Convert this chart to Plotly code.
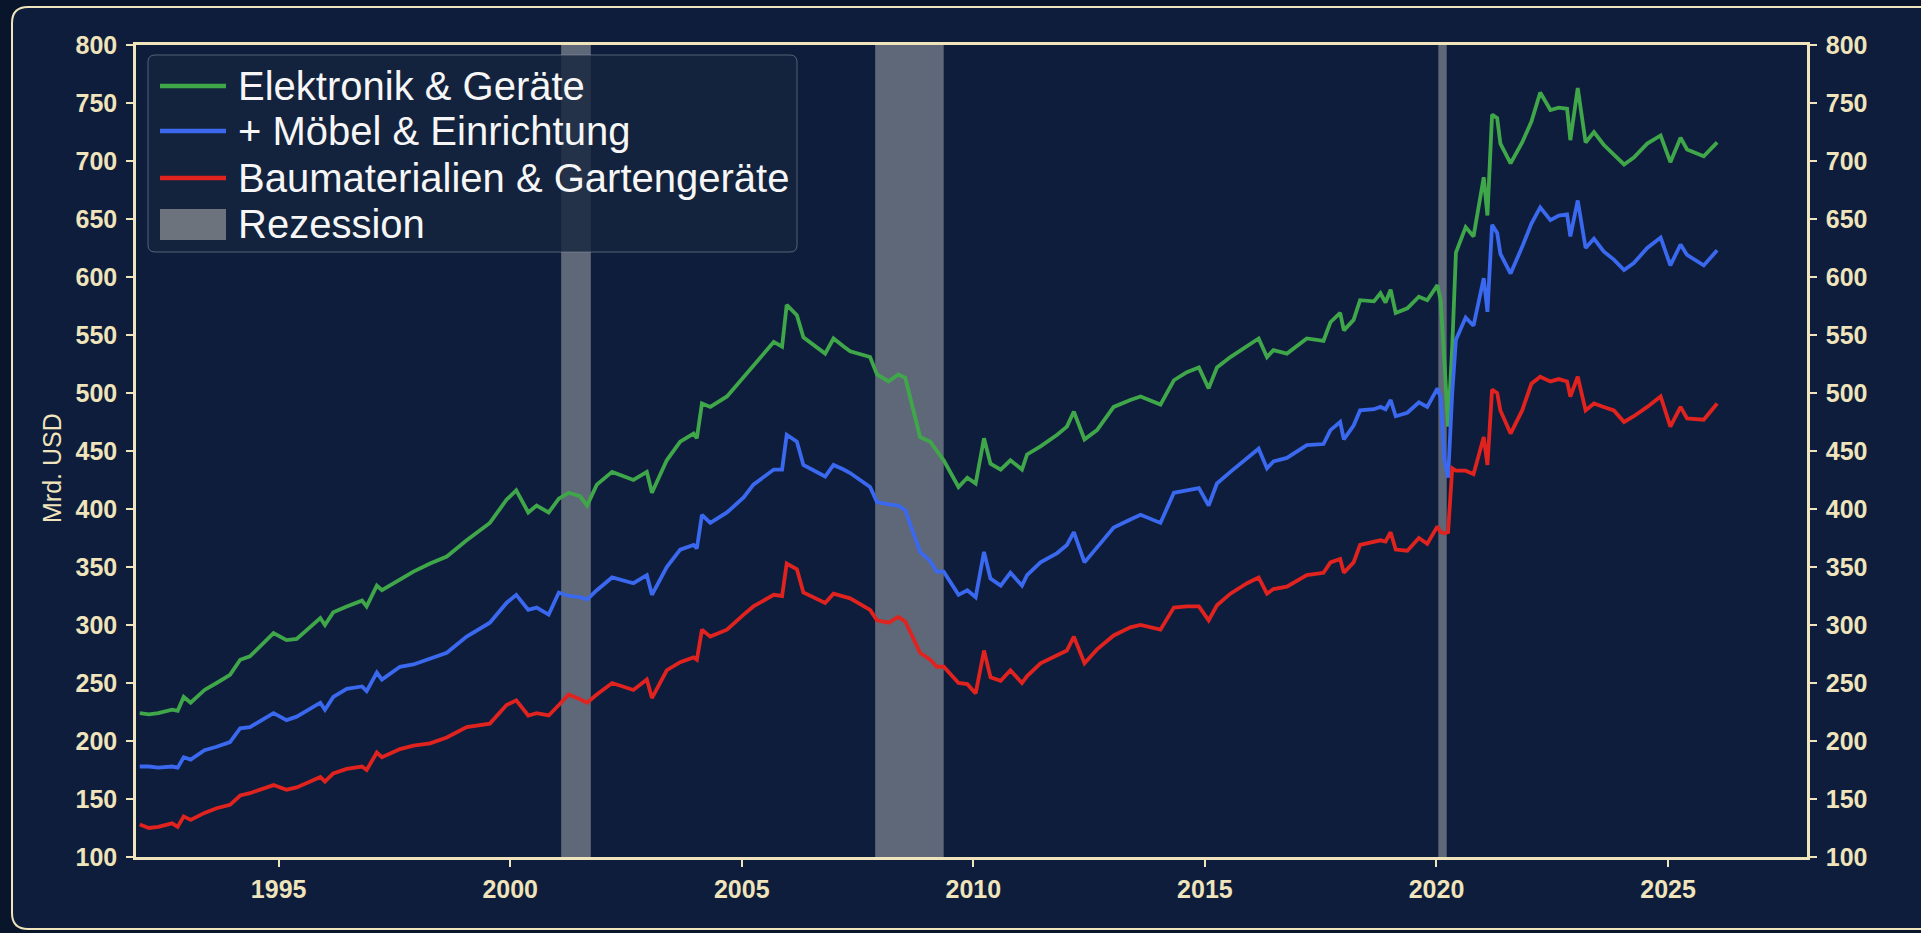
import plotly.graph_objects as go

# monthly retail sales, stacked (Mrd. USD)
years = [1992.00, 1992.20, 1992.40, 1992.70, 1992.82, 1992.95, 1993.10, 1993.40, 1993.66, 1993.95,
         1994.17, 1994.38, 1994.89, 1995.17, 1995.39, 1995.90, 1996.00, 1996.18, 1996.47, 1996.80,
         1996.90, 1997.12, 1997.23, 1997.62, 1997.91, 1998.27, 1998.63, 1999.06, 1999.56, 1999.92,
         2000.13, 2000.39, 2000.57, 2000.83, 2001.05, 2001.26, 2001.51, 2001.66, 2001.87, 2002.20,
         2002.66, 2002.95, 2003.06, 2003.38, 2003.67, 2003.96, 2004.03, 2004.14, 2004.32, 2004.68,
         2005.04, 2005.25, 2005.69, 2005.87, 2005.97, 2006.19, 2006.33, 2006.80, 2006.98, 2007.20,
         2007.34, 2007.77, 2007.92, 2008.17, 2008.38, 2008.53, 2008.85, 2009.07, 2009.21, 2009.36,
         2009.68, 2009.87, 2010.05, 2010.23, 2010.37, 2010.59, 2010.80, 2011.05, 2011.16, 2011.45,
         2011.81, 2012.02, 2012.17, 2012.40, 2012.67, 2013.03, 2013.39, 2013.61, 2014.04, 2014.33,
         2014.61, 2014.87, 2015.08, 2015.26, 2015.55, 2015.91, 2016.16, 2016.34, 2016.48, 2016.77,
         2017.20, 2017.56, 2017.71, 2017.92, 2018.00, 2018.21, 2018.35, 2018.65, 2018.79, 2018.90,
         2019.01, 2019.12, 2019.37, 2019.62, 2019.80, 2020.02, 2020.09, 2020.17, 2020.25, 2020.34,
         2020.42, 2020.63, 2020.80, 2021.02, 2021.10, 2021.20, 2021.31, 2021.38, 2021.60, 2021.85,
         2022.05, 2022.24, 2022.46, 2022.64, 2022.82, 2022.89, 2023.05, 2023.22, 2023.40, 2023.61,
         2023.83, 2024.05, 2024.26, 2024.55, 2024.84, 2025.05, 2025.27, 2025.41, 2025.77, 2026.06]

elektronik = [224, 223, 224, 227, 226, 238, 233, 244, 250, 257,
              270, 273, 293, 287, 288, 306, 300, 311, 316, 321,
              316, 334, 330, 339, 346, 353, 359, 373, 388, 408,
              416, 397, 403, 397, 409, 414, 411, 403, 421, 432,
              425, 432, 414, 442, 458, 465, 461, 491, 488, 497,
              514, 524, 544, 540, 576, 567, 548, 534, 547, 540,
              536, 531, 516, 510, 516, 513, 462, 458, 450, 442,
              419, 427, 422, 461, 439, 434, 442, 434, 447, 454,
              464, 471, 484, 460, 468, 488, 494, 497, 490, 511,
              518, 522, 504, 522, 531, 540, 547, 531, 537, 534,
              547, 545, 561, 569, 554, 563, 580, 579, 586, 578,
              589, 569, 573, 583, 580, 593, 580, 528, 471, 540,
              621, 643, 635, 686, 653, 740, 737, 715, 698, 716,
              734, 759, 744, 746, 745, 718, 763, 716, 725, 714,
              705, 697, 703, 715, 722, 699, 720, 710, 704, 716]

moebel = [178, 178, 177, 178, 177, 186, 184, 192, 195, 199,
          211, 212, 224, 218, 221, 233, 227, 238, 245, 247,
          243, 259, 253, 264, 266, 271, 276, 290, 302, 319,
          326, 313, 315, 309, 328, 325, 324, 322, 330, 341,
          336, 343, 326, 350, 365, 369, 366, 395, 388, 397,
          410, 421, 434, 434, 464, 458, 438, 428, 438, 434,
          431, 419, 406, 404, 403, 399, 363, 355, 346, 346,
          326, 330, 324, 363, 340, 334, 345, 334, 343, 354,
          362, 369, 380, 354, 367, 384, 391, 395, 388, 414,
          416, 418, 403, 422, 432, 444, 452, 435, 441, 444,
          455, 456, 468, 475, 460, 472, 485, 486, 488, 486,
          494, 480, 483, 492, 488, 504, 496, 442, 427, 500,
          546, 565, 558, 599, 570, 645, 638, 620, 603, 626,
          646, 660, 649, 653, 654, 635, 666, 625, 633, 622,
          615, 606, 612, 625, 634, 610, 628, 619, 610, 623]

bau = [128, 125, 126, 129, 126, 135, 132, 138, 142, 145,
       153, 155, 162, 158, 160, 169, 165, 172, 176, 178,
       175, 190, 186, 193, 196, 198, 203, 212, 215, 231,
       235, 222, 224, 222, 231, 240, 236, 233, 240, 250,
       244, 253, 237, 261, 268, 272, 270, 296, 290, 296,
       309, 316, 326, 325, 353, 348, 328, 319, 327, 325,
       323, 313, 304, 302, 307, 303, 276, 270, 264, 264,
       250, 249, 241, 278, 255, 252, 261, 250, 256, 267,
       274, 278, 290, 267, 279, 291, 298, 300, 296, 315,
       316, 316, 304, 317, 327, 336, 341, 327, 331, 333,
       343, 345, 354, 357, 345, 354, 369, 372, 373, 372,
       380, 365, 364, 375, 370, 385, 380, 379, 380, 435,
       433, 433, 430, 462, 438, 503, 500, 485, 465, 485,
       508, 514, 510, 512, 510, 497, 514, 485, 491, 488,
       485, 475, 480, 488, 497, 471, 488, 478, 477, 491]

rezession_start = [2001.10, 2007.88, 2020.04]
rezession_end = [2001.74, 2009.36, 2020.22]

x_ticks = [1995, 2000, 2005, 2010, 2015, 2020, 2025]
y_ticks = [100, 150, 200, 250, 300, 350, 400, 450, 500, 550, 600, 650, 700, 750, 800]

serien = [
    ("Elektronik & Geräte", elektronik, "#3fa74a"),
    ("+ Möbel & Einrichtung", moebel, "#3a68ee"),
    ("Baumaterialien & Gartengeräte", bau, "#e0231f"),
]

W, H = 1921, 933
X0, X1, Y0, Y1 = 136, 1807, 45, 857   # plot area in pixels
CREAM = "#efe4bb"
REZ_COLOR = "rgba(150,155,162,0.6)"


def px(x):
    return (x - X0) / (X1 - X0)


def py(y):
    return (Y1 - y) / (Y1 - Y0)


def rounded_rect(l, t, r, b, rad):
    return (f"M{px(l + rad)},{py(t)} L{px(r - rad)},{py(t)} Q{px(r)},{py(t)} {px(r)},{py(t + rad)} "
            f"L{px(r)},{py(b - rad)} Q{px(r)},{py(b)} {px(r - rad)},{py(b)} "
            f"L{px(l + rad)},{py(b)} Q{px(l)},{py(b)} {px(l)},{py(b - rad)} "
            f"L{px(l)},{py(t + rad)} Q{px(l)},{py(t)} {px(l + rad)},{py(t)} Z")


fig = go.Figure()
for i, (name, vals, col) in enumerate(serien):
    fig.add_trace(go.Scatter(
        x=years, y=vals, name=name, mode="lines",
        line=dict(color=col, width=3.8),
        yaxis="y2" if i == 2 else "y",
        showlegend=False,
    ))

shapes = []
# outer rounded frame
shapes.append(dict(type="path", xref="paper", yref="paper", layer="below",
                   path=rounded_rect(12, 7, 1940, 929, 16),
                   fillcolor="#0e1d3b", line=dict(color=CREAM, width=2)))
# recession bands
for a, b in zip(rezession_start, rezession_end):
    shapes.append(dict(type="rect", xref="x", yref="paper", x0=a, x1=b, y0=0, y1=1,
                       layer="below", fillcolor=REZ_COLOR, line_width=0))

# custom legend
shapes.append(dict(type="path", xref="paper", yref="paper", layer="above",
                   path=rounded_rect(148, 55, 797, 252, 7),
                   fillcolor="rgba(22,36,62,0.82)", line=dict(color="rgba(140,150,165,0.55)", width=1)))
rows = [86, 131, 178, 224]
annotations = []
for (name, vals, col), yy in zip(serien, rows[:3]):
    shapes.append(dict(type="line", xref="paper", yref="paper", layer="above",
                       x0=px(160), x1=px(226), y0=py(yy), y1=py(yy),
                       line=dict(color=col, width=4.5)))
shapes.append(dict(type="rect", xref="paper", yref="paper", layer="above",
                   x0=px(160), x1=px(226), y0=py(209), y1=py(240),
                   fillcolor="#6c737c", line_width=0))
for (name, _, _), yy in zip(serien, rows[:3]):
    annotations.append(dict(xref="paper", yref="paper", x=px(236), y=py(yy), text=name,
                            showarrow=False, xanchor="left", yanchor="middle",
                            font=dict(family="Liberation Sans", size=40, color="#f6f6f6")))
annotations.append(dict(xref="paper", yref="paper", x=px(236), y=py(rows[3]), text="Rezession",
                        showarrow=False, xanchor="left", yanchor="middle",
                        font=dict(family="Liberation Sans", size=40, color="#f6f6f6")))
# y axis title
annotations.append(dict(xref="paper", yref="paper", x=px(52), y=py(468), text="Mrd. USD",
                        showarrow=False, textangle=-90, xanchor="center", yanchor="middle",
                        font=dict(family="Liberation Sans", size=25, color=CREAM)))

tickfont = dict(family="Liberation Sans", size=25, color=CREAM, weight="bold")
axis_common = dict(showgrid=False, zeroline=False, showline=True, linecolor=CREAM, linewidth=2.5,
                   ticks="outside", ticklen=7, tickwidth=2, tickcolor=CREAM, tickfont=tickfont)

fig.update_layout(
    width=W, height=H,
    margin=dict(l=X0, r=W - X1, t=Y0, b=H - Y1),
    paper_bgcolor="#09152a",
    plot_bgcolor="rgba(0,0,0,0)",
    showlegend=False,
    shapes=shapes,
    annotations=annotations,
    xaxis=dict(range=[1991.92, 2028.0], tickvals=x_ticks, ticktext=[str(t) for t in x_ticks],
               mirror=True, ticklabelstandoff=1, **axis_common),
    yaxis=dict(range=[100, 800], tickvals=y_ticks, ticklabelstandoff=4, **axis_common),
    yaxis2=dict(range=[100, 800], tickvals=y_ticks, overlaying="y", side="right", matches="y",
                ticklabelstandoff=4, **axis_common),
)

fig.write_html("out.html", config={"displayModeBar": False},
               post_script="document.body.style.margin='0';")
